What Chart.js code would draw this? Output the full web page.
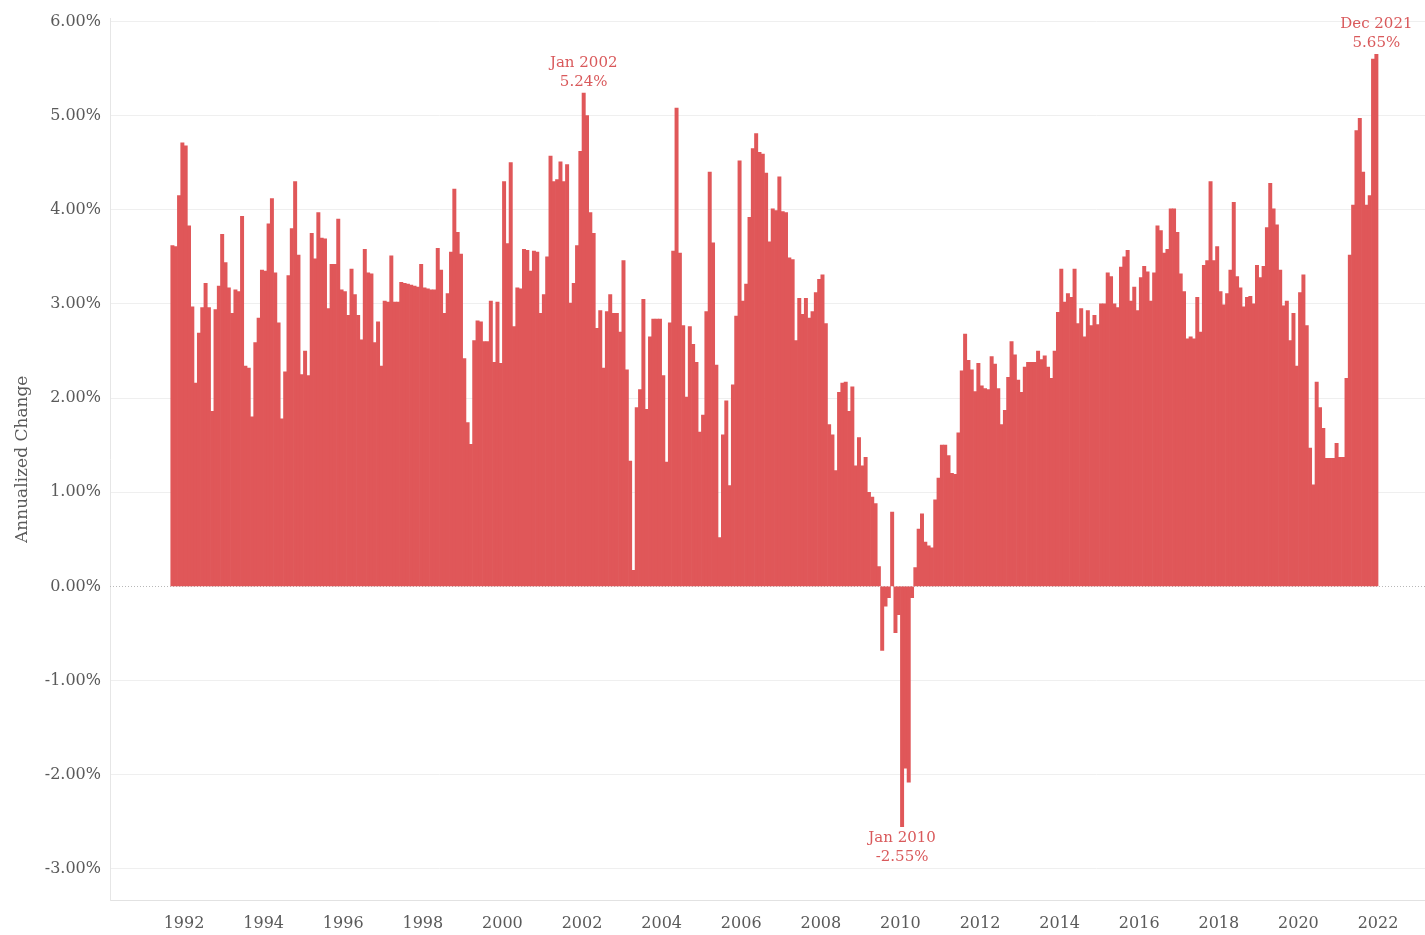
<!DOCTYPE html>
<html>
<head>
<meta charset="utf-8">
<script src="https://cdn.jsdelivr.net/npm/chart.js@4/dist/chart.umd.min.js"></script>
<style>
  html, body { margin: 0; padding: 0; background: #ffffff; }
  #wrap { width: 1425px; height: 935px; position: relative; }
</style>
</head>
<body>
<div id="wrap"><canvas id="c" width="1425" height="935"></canvas></div>
<script>
// ---- Data (monthly annualized change, %), starting Sep 1991 ----
const startYear = 1991;
const startMonth = 9; // September
const values = [
  // 1991 Sep-Dec
  3.62, 3.61, 4.15, 4.71,
  // 1992
  4.68, 3.83, 2.97, 2.16, 2.69, 2.96, 3.22, 2.96, 1.86, 2.94, 3.19, 3.74,
  // 1993
  3.44, 3.17, 2.90, 3.15, 3.13, 3.93, 2.34, 2.32, 1.80, 2.59, 2.85, 3.36,
  // 1994
  3.35, 3.85, 4.12, 3.33, 2.80, 1.78, 2.28, 3.30, 3.80, 4.30, 3.52, 2.25,
  // 1995
  2.50, 2.24, 3.75, 3.48, 3.97, 3.70, 3.69, 2.95, 3.42, 3.42, 3.90, 3.15,
  // 1996
  3.13, 2.88, 3.37, 3.10, 2.88, 2.62, 3.58, 3.33, 3.32, 2.59, 2.81, 2.34,
  // 1997
  3.03, 3.02, 3.51, 3.02, 3.02, 3.23, 3.22, 3.21, 3.20, 3.19, 3.18, 3.42,
  // 1998
  3.17, 3.16, 3.15, 3.15, 3.59, 3.36, 2.90, 3.11, 3.55, 4.22, 3.76, 3.53,
  // 1999
  2.42, 1.74, 1.51, 2.61, 2.82, 2.81, 2.60, 2.60, 3.03, 2.38, 3.02, 2.37,
  // 2000
  4.30, 3.64, 4.50, 2.76, 3.17, 3.16, 3.58, 3.57, 3.35, 3.56, 3.55, 2.90,
  // 2001
  3.10, 3.50, 4.57, 4.30, 4.32, 4.51, 4.30, 4.48, 3.01, 3.22, 3.62, 4.62,
  // 2002
  5.24, 5.00, 3.97, 3.75, 2.74, 2.93, 2.32, 2.92, 3.10, 2.90, 2.90, 2.70,
  // 2003
  3.46, 2.30, 1.33, 0.17, 1.90, 2.09, 3.05, 1.88, 2.65, 2.84, 2.84, 2.84,
  // 2004
  2.24, 1.32, 2.80, 3.56, 5.08, 3.54, 2.77, 2.01, 2.76, 2.57, 2.38, 1.64,
  // 2005
  1.82, 2.92, 4.40, 3.65, 2.35, 0.52, 1.61, 1.97, 1.07, 2.14, 2.87, 4.52,
  // 2006
  3.03, 3.21, 3.92, 4.65, 4.81, 4.61, 4.59, 4.39, 3.66, 4.01, 3.99, 4.35,
  // 2007
  3.98, 3.97, 3.49, 3.47, 2.61, 3.06, 2.89, 3.06, 2.85, 2.92, 3.12, 3.26,
  // 2008
  3.31, 2.79, 1.72, 1.61, 1.23, 2.06, 2.16, 2.17, 1.86, 2.12, 1.28, 1.58,
  // 2009
  1.28, 1.37, 1.00, 0.95, 0.88, 0.21, -0.68, -0.21, -0.12, 0.79, -0.49, -0.30,
  // 2010
  -2.55, -1.93, -2.08, -0.12, 0.20, 0.61, 0.77, 0.47, 0.43, 0.41, 0.92, 1.15,
  // 2011
  1.50, 1.50, 1.39, 1.20, 1.19, 1.63, 2.29, 2.68, 2.40, 2.30, 2.07, 2.37,
  // 2012
  2.13, 2.10, 2.09, 2.44, 2.36, 2.10, 1.72, 1.87, 2.22, 2.60, 2.46, 2.19,
  // 2013
  2.06, 2.33, 2.38, 2.38, 2.38, 2.50, 2.41, 2.45, 2.33, 2.21, 2.50, 2.91,
  // 2014
  3.37, 3.02, 3.11, 3.07, 3.37, 2.79, 2.95, 2.65, 2.93, 2.77, 2.88, 2.78,
  // 2015
  3.00, 3.00, 3.33, 3.29, 3.00, 2.96, 3.39, 3.50, 3.57, 3.03, 3.18, 2.93,
  // 2016
  3.28, 3.40, 3.34, 3.03, 3.33, 3.83, 3.78, 3.54, 3.58, 4.01, 4.01, 3.76,
  // 2017
  3.32, 3.13, 2.63, 2.65, 2.63, 3.07, 2.70, 3.41, 3.46, 4.30, 3.46, 3.61,
  // 2018
  3.13, 2.99, 3.11, 3.36, 4.08, 3.29, 3.17, 2.97, 3.07, 3.08, 3.00, 3.41,
  // 2019
  3.28, 3.40, 3.81, 4.28, 4.01, 3.84, 3.36, 2.98, 3.03, 2.61, 2.90, 2.34,
  // 2020
  3.12, 3.31, 2.77, 1.47, 1.08, 2.17, 1.90, 1.68, 1.36, 1.36, 1.36, 1.52,
  // 2021
  1.37, 1.37, 2.21, 3.52, 4.05, 4.84, 4.97, 4.40, 4.05, 4.15, 5.60, 5.65
];
const yearTicks = [1992, 1994, 1996, 1998, 2000, 2002, 2004, 2006, 2008, 2010, 2012, 2014, 2016, 2018, 2020, 2022];
const valueTicks = [-3, -2, -1, 0, 1, 2, 3, 4, 5, 6];
const annotated = [
  { label: 'Jan 2002', year: 2002, month: 1 },
  { label: 'Jan 2010', year: 2010, month: 1 },
  { label: 'Dec 2021', year: 2021, month: 12 }
];

// ---- Build points (x = fractional year at month centre) ----
const points = values.map((v, i) => {
  const m = startMonth - 1 + i;
  return { x: startYear + m / 12 + 1 / 24, y: v };
});
function indexOf(year, month) {
  return (year - startYear) * 12 + (month - startMonth);
}

const RED = '#E05759';
const TXT = '#5a5a5a';
const FONT = "'DejaVu Serif', 'Liberation Serif', serif";

const zeroLine = {
  id: 'zeroLine',
  beforeDatasetsDraw(chart) {
    const { ctx, chartArea, scales } = chart;
    const y = Math.round(scales.y.getPixelForValue(0)) + 0.5;
    ctx.save();
    ctx.strokeStyle = '#b8b8b8';
    ctx.lineWidth = 1;
    ctx.setLineDash([1, 2]);
    ctx.beginPath();
    ctx.moveTo(chartArea.left, y);
    ctx.lineTo(chartArea.right, y);
    ctx.stroke();
    ctx.restore();
  }
};

const notes = {
  id: 'notes',
  afterDatasetsDraw(chart) {
    const { ctx, scales } = chart;
    ctx.save();
    ctx.fillStyle = '#D9595B';
    ctx.font = "15px " + FONT;
    ctx.textAlign = 'center';
    ctx.textBaseline = 'middle';
    annotated.forEach(a => {
      const i = indexOf(a.year, a.month);
      const p = points[i];
      const x = scales.x.getPixelForValue(p.x);
      const y = scales.y.getPixelForValue(p.y);
      const valTxt = p.y.toFixed(2) + '%';
      if (p.y >= 0) {
        ctx.fillText(a.label, x, y - 30);
        ctx.fillText(valTxt, x, y - 11);
      } else {
        ctx.fillText(a.label, x, y + 12);
        ctx.fillText(valTxt, x, y + 31);
      }
    });
    ctx.restore();
  }
};

new Chart(document.getElementById('c'), {
  type: 'bar',
  data: {
    datasets: [{
      data: points,
      backgroundColor: RED,
      borderWidth: 0,
      barPercentage: 1.0,
      categoryPercentage: 1.0
    }]
  },
  options: {
    responsive: false,
    animation: false,
    layout: { padding: { top: 0, right: 0, left: 0, bottom: 0 } },
    plugins: { legend: { display: false }, tooltip: { enabled: false } },
    scales: {
      x: {
        type: 'linear',
        offset: false,
        min: 1990.14,
        max: 2023.18,
        afterBuildTicks(scale) { scale.ticks = yearTicks.map(v => ({ value: v })); },
        afterFit(scale) { scale.height = 35; },
        grid: { display: false, drawTicks: false, offset: false },
        border: { display: true, color: '#e2e2e2' },
        ticks: {
          color: TXT,
          font: { family: FONT, size: 16 },
          padding: 14,
          maxRotation: 0,
          autoSkip: false,
          callback: v => String(v)
        }
      },
      y: {
        min: -3.33,
        max: 6.03,
        afterBuildTicks(scale) { scale.ticks = valueTicks.map(v => ({ value: v })); },
        afterFit(scale) { scale.width = 110; },
        grid: {
          drawTicks: false,
          color: ctx => (ctx.tick && ctx.tick.value === 0) ? 'rgba(0,0,0,0)' : '#efefef'
        },
        border: { display: true, color: '#e6e6e6' },
        ticks: {
          color: TXT,
          font: { family: FONT, size: 16 },
          padding: 9,
          callback: v => v.toFixed(2) + '%'
        },
        title: {
          display: true,
          text: 'Annualized Change',
          color: TXT,
          font: { family: FONT, size: 17 },
          padding: { top: 12, bottom: 0 }
        }
      }
    }
  },
  plugins: [zeroLine, notes]
});
</script>
</body>
</html>
